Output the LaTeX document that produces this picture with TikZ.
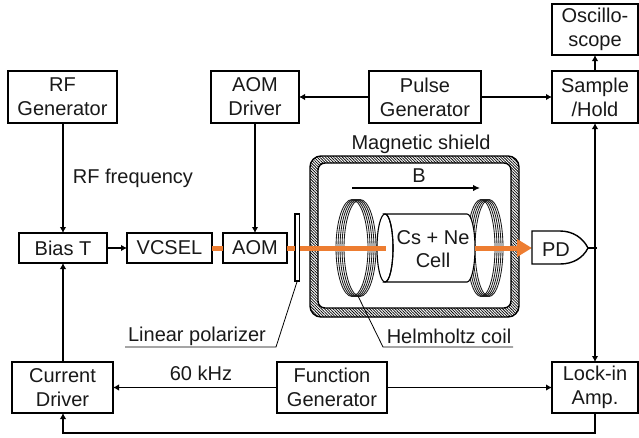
\documentclass[tikz,border=0pt]{standalone}
\usepackage{fontspec}
\setmainfont{Liberation Sans}
\usetikzlibrary{arrows.meta,patterns.meta}
\definecolor{beam}{HTML}{ED7D31}
\tikzset{
  x=1pt,y=-1pt,
  every node/.style={inner sep=0pt,outer sep=0pt,text=black!90,font=\fontsize{20}{24}\selectfont},
  blk/.style={draw=black,line width=1.4pt,fill=white,align=center,anchor=north west},
  lbl/.style={anchor=base},
  conn/.style={line width=1.4pt,-{Latex[length=6pt,width=6.5pt]}},
  connb/.style={line width=1.4pt,{Latex[length=6pt,width=6.5pt]}-{Latex[length=6pt,width=6.5pt]}},
  leader/.style={line width=0.8pt},
  beamline/.style={draw=beam,line width=5pt},
  coilturn/.style={line width=0.85pt,draw=black!90},
}
\begin{document}
\begin{tikzpicture}
\useasboundingbox (0,0) rectangle (639,437);
% boxes
\node[blk,minimum width=86pt,minimum height=51pt] (osc) at (552,4) {Oscillo-\\scope};
\node[blk,minimum width=86pt,minimum height=52pt] (sh) at (552,71) {Sample\\/Hold};
\node[blk,minimum width=112pt,minimum height=52pt] (pulse) at (369,71) {Pulse\\Generator};
\node[blk,minimum width=88pt,minimum height=52pt] (aomd) at (211,71) {AOM\\Driver};
\node[blk,minimum width=109pt,minimum height=52pt] (rf) at (8,71) {RF\\Generator};
\node[blk,minimum width=88pt,minimum height=30pt] (bias) at (19,233) {Bias T};
\node[blk,minimum width=85pt,minimum height=30pt] (vcsel) at (127,233) {VCSEL};
\node[blk,minimum width=64pt,minimum height=30pt] (aom) at (223,233) {AOM};
\node[blk,minimum width=101pt,minimum height=51pt] (cur) at (12,362) {Current\\Driver};
\node[blk,minimum width=110pt,minimum height=51pt] (func) at (277,362) {Function\\Generator};
\node[blk,minimum width=86pt,minimum height=51pt] (lock) at (552,362) {Lock-in\\Amp.};
% shield
\path[pattern={Lines[angle=-45,distance=2pt,line width=0.75pt]},even odd rule]
  [rounded corners=11pt] (310,156) rectangle (519,317)
  [rounded corners=7pt] (318,163) rectangle (511,308);
\draw[line width=1.4pt,rounded corners=11pt] (310,156) rectangle (519,317);
\draw[line width=1.4pt,rounded corners=7pt] (318,163) rectangle (511,308);
% coils
\foreach \c in {352,354,356,358,360} \draw[coilturn] (\c,248) ellipse [x radius=16,y radius=48.5];
\foreach \c in {481,483,485,487,489} \draw[coilturn] (\c,248) ellipse [x radius=14,y radius=48.5];
% cell
\draw[line width=1.1pt,fill=white] (385,214) -- (467,214) arc[start angle=90,end angle=-90,x radius=8,y radius=-34] -- (385,282) arc[start angle=-90,end angle=90,x radius=8,y radius=-34] -- cycle;
\coordinate (cellin) at (386,248);
\draw[line width=1.1pt] (385,248) ellipse [x radius=8,y radius=34];
\coordinate (pdwest) at (532,248);
\coordinate (cellout) at (475,248);
% polarizer
\node[draw=black,line width=1.1pt,fill=white,anchor=north west,minimum width=4.5pt,minimum height=67pt] (pol) at (295,214) {};
% beam
\draw[beamline] (vcsel.east) -- (aom.west);
\draw[beamline] (aom.east) -- (aom.east -| pol.west);
\draw[beamline] (aom.east -| pol.east) -- (cellin);
\draw[beam,line width=5pt,-{Triangle[length=15pt,width=17pt]}] (cellout) -- (pdwest);
% PD
\draw[line width=1.4pt,fill=white] (532,231) -- (560,231) .. controls (573,231) and (583,238) .. (588,248) .. controls (583,258) and (573,264) .. (560,264) -- (532,264) -- cycle;
\coordinate (pdtip) at (588,248);
\coordinate (pdjoin) at (597,248);
\node[lbl] (pd) at (556,256) {PD};
\draw[line width=1.4pt] (pdtip) -- (pdjoin);
% connectors
\draw[conn] (sh.north) -- (osc.south);
\draw[connb] (sh.south) -- (lock.north);
\draw[conn] (pulse.west) -- (aomd.east);
\draw[conn] (pulse.east) -- (sh.west);
\draw[conn] (rf.south -| bias.north) -- (bias.north);
\draw[conn] (aomd.south -| aom.north) -- (aom.north);
\draw[conn] (bias.east) -- (vcsel.west);
\draw[conn] (cur.north -| bias.south) -- (bias.south);
\draw[conn] (func.west) -- (cur.east);
\draw[conn] (func.east) -- (lock.west);
\draw[line width=1.4pt,-{Latex[length=6pt,width=6.5pt]}] (lock.south) |- (63,433) -- (63,413);
% B
\coordinate (bl) at (352,188);
\coordinate (br) at (480,188);
\draw[line width=1.6pt,-{Latex[length=7pt,width=6.5pt]}] (bl) -- (br);
% leaders
\coordinate (polk) at (276,347);
\coordinate (pole) at (125,347);
\draw[leader] (pol.south) -- (polk) -- (pole);
\coordinate (hs) at (358,296);
\coordinate (hk) at (383,347);
\coordinate (he) at (513,347);
\draw[leader] (hs) -- (hk) -- (he);
% labels
\node[lbl] (rff) at (133,183) {RF frequency};
\node[lbl] (ms) at (421,149) {Magnetic shield};
\node[lbl] (bt) at (419,182) {B};
\node[lbl] (cs) at (433,244) {Cs + Ne};
\node[lbl] (cl) at (433,267) {Cell};
\node[lbl] (lp) at (197,341) {Linear polarizer};
\node[lbl] (hc) at (449,343) {Helmholtz coil};
\node[lbl] (khz) at (201,380) {60 kHz};
\end{tikzpicture}
\end{document}
